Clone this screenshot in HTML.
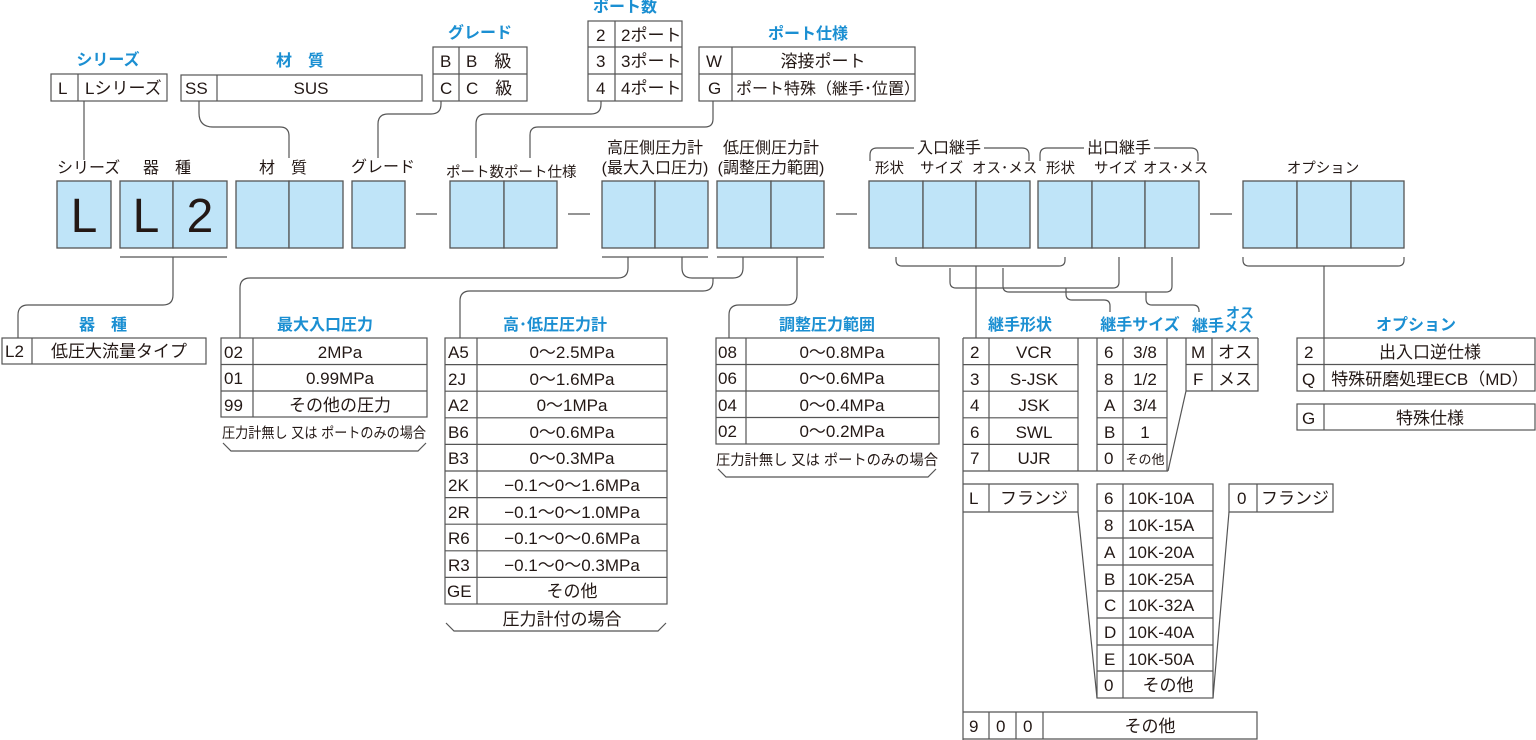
<!DOCTYPE html>
<html><head><meta charset="utf-8"><style>
html,body{margin:0;padding:0;background:#fff}
svg{display:block}
text{font-family:"Liberation Sans","Noto Sans CJK JP",sans-serif;fill:#231815}
.t{font-size:17px}
.m{font-size:16px}
.s{font-size:14.5px}
.b{fill:#1b8fd2;font-weight:bold;font-size:16px}
.c{text-anchor:middle}
.big{font-size:48px;text-anchor:middle}
.bx{fill:#bfe4f8;stroke:#555;stroke-width:1.3}
.ln{fill:none;stroke:#555;stroke-width:1.2}
.tb{fill:#fff;stroke:#555;stroke-width:1.2}
</style></head><body>
<svg width="1536" height="740" viewBox="0 0 1536 740" xmlns="http://www.w3.org/2000/svg">
<!-- main boxes -->
<g class="bx">
<rect x="57" y="181" width="54" height="67"/>
<rect x="120" y="181" width="53" height="67"/><rect x="173" y="181" width="54" height="67"/>
<rect x="236" y="181" width="53" height="67"/><rect x="289" y="181" width="54" height="67"/>
<rect x="352" y="181" width="53" height="67"/>
<rect x="450" y="181" width="54" height="67"/><rect x="504" y="181" width="53" height="67"/>
<rect x="602" y="181" width="53" height="67"/><rect x="655" y="181" width="53" height="67"/>
<rect x="717" y="181" width="54" height="67"/><rect x="771" y="181" width="53" height="67"/>
<rect x="869" y="181" width="54" height="67"/><rect x="923" y="181" width="53" height="67"/><rect x="976" y="181" width="54" height="67"/>
<rect x="1038" y="181" width="54" height="67"/><rect x="1092" y="181" width="53" height="67"/><rect x="1145" y="181" width="54" height="67"/>
<rect x="1243" y="181" width="54" height="67"/><rect x="1297" y="181" width="54" height="67"/><rect x="1351" y="181" width="53" height="67"/>
</g>
<text class="big" x="84" y="232">L</text><text class="big" x="146" y="232">L</text><text class="big" x="200" y="232">2</text>
<g class="ln">
<path d="M416 214H437M568 214H590M836 214H857M1210 214H1232"/>
</g>
<!-- labels above main -->
<g class="m">
<text x="57" y="173">シリーズ</text>
<text x="143" y="173">器　種</text>
<text x="259" y="173">材　質</text>
<text x="351" y="172">グレード</text>
<text x="446" y="177" class="s">ポート数</text>
<text x="504" y="177" class="s">ポート仕様</text>
<text x="655" y="153" class="c">高圧側圧力計</text>
<text x="655" y="173" class="c">(最大入口圧力)</text>
<text x="771" y="153" class="c">低圧側圧力計</text>
<text x="771" y="173" class="c">(調整圧力範囲)</text>
<text x="949" y="153" class="c">入口継手</text>
<text x="875" y="173" class="s">形状</text><text x="920" y="173" class="s">サイズ</text><text x="972" y="173" class="s">オス･メス</text>
<text x="1119" y="153" class="c">出口継手</text>
<text x="1046" y="173" class="s">形状</text><text x="1094" y="173" class="s">サイズ</text><text x="1143" y="173" class="s">オス･メス</text>
<text x="1323" y="173" class="c s">オプション</text>
</g>
<g class="ln">
<path d="M870 161v-6q0-7 7-7H914M984 148H1022q7 0 7 7v6"/>
<path d="M1040 161v-6q0-7 7-7H1084M1154 148H1191q7 0 7 7v6"/>
</g>
<!-- top tables -->
<text class="b c" x="108" y="65">シリーズ</text>
<rect class="tb" x="51" y="74" width="116" height="27"/><path class="ln" d="M78 74v27"/>
<text class="t" x="58" y="94">L</text><text class="t" x="85" y="94">Lシリーズ</text>
<text class="b c" x="300" y="66">材　質</text>
<rect class="tb" x="181" y="75" width="241" height="26"/><path class="ln" d="M217 75v26"/>
<text class="t" x="185" y="94">SS</text><text class="t c" x="311" y="94">SUS</text>
<text class="b c" x="480" y="38">グレード</text>
<rect class="tb" x="433" y="47" width="94" height="54"/><path class="ln" d="M459 47v54M433 74h94"/>
<text class="t" x="440" y="67">B</text><text class="t" x="466" y="67">B　級</text>
<text class="t" x="440" y="94">C</text><text class="t" x="466" y="94">C　級</text>
<text class="b c" x="625" y="12">ポート数</text>
<rect class="tb" x="588" y="21" width="94" height="80"/><path class="ln" d="M615 21v80M588 47h94M588 74h94"/>
<text class="t" x="596" y="41">2</text><text class="t" x="621" y="41">2ポート</text>
<text class="t" x="596" y="67">3</text><text class="t" x="621" y="67">3ポート</text>
<text class="t" x="596" y="94">4</text><text class="t" x="621" y="94">4ポート</text>
<text class="b c" x="808" y="39">ポート仕様</text>
<rect class="tb" x="699" y="47" width="216" height="54"/><path class="ln" d="M732 47v54M699 74h216"/>
<text class="t" x="706" y="67">W</text><text class="t c" x="823" y="67">溶接ポート</text>
<text class="t" x="708" y="94">G</text><text class="m" x="736" y="94">ポート特殊（継手･位置）</text>
<!-- top connectors -->
<g class="ln">
<path d="M84 101V160"/>
<path d="M199 101v12q0 14 14 14H280q9 0 9 9V158"/>
<path d="M441 101v3q0 10-10 10H388q-10 0-10 10V158"/>
<path d="M601 101v3q0 10-10 10H486q-10 0-10 10V158"/>
<path d="M713 101v18q0 8-8 8H538q-8 0-8 8V158"/>
</g>
<!-- under main connectors -->
<g class="ln">
<path d="M120 257H227M173 257v38q0 10-10 10H28q-10 0-10 10V338"/>
<path d="M602 257H708M717 257H824"/>
<path d="M628 257v11q0 10-10 10H250q-10 0-10 10V338"/>
<path d="M682 257v11q0 10 10 10H733q10 0 10-10V257"/>
<path d="M713 278v3q0 10-10 10H470q-10 0-10 10V338"/>
<path d="M797 257v38q0 10-10 10H739q-10 0-10 10V338"/>
<path d="M896 257v3q0 6 6 6H1059q6 0 6-6v-3M976 266V338"/>
<path d="M950 268v14q0 6 6 6H1113q6 0 6-6V257M1066 288v6q0 6 6 6H1104q6 0 6 6V312"/>
<path d="M1003 268v18q0 6 6 6H1166q6 0 6-6V257M1146 292v7q0 6 6 6H1193q6 0 6 6V312"/>
<path d="M1243 257v3q0 6 6 6H1398q6 0 6-6v-3M1324 266V338"/>
</g>
<!-- 器種 -->
<text class="b c" x="103" y="330">器　種</text>
<rect class="tb" x="2" y="338" width="204" height="26"/><path class="ln" d="M32 338v26"/>
<text class="t" x="5" y="357">L2</text><text class="t c" x="119" y="357">低圧大流量タイプ</text>
<!-- 最大入口圧力 -->
<text class="b c" x="325" y="330">最大入口圧力</text>
<rect class="tb" x="221" y="338" width="206" height="79"/><path class="ln" d="M253 338v79M221 364.5h206M221 391h206"/>
<text class="t" x="224" y="358">02</text><text class="t c" x="340" y="358">2MPa</text>
<text class="t" x="224" y="384">01</text><text class="t c" x="340" y="384">0.99MPa</text>
<text class="t" x="224" y="411">99</text><text class="t c" x="340" y="411">その他の圧力</text>
<text class="s" x="222" y="438" textLength="204" lengthAdjust="spacingAndGlyphs">圧力計無し 又は ポートのみの場合</text>
<path class="ln" d="M223 443l8 8H418l8-8"/>
<!-- 高低圧計 -->
<text class="b c" x="555" y="330">高･低圧圧力計</text>
<rect class="tb" x="445" y="338" width="222" height="266"/>
<path class="ln" d="M477 338v266M445 364.6h222M445 391.2h222M445 417.8h222M445 444.4h222M445 471h222M445 497.6h222M445 524.2h222M445 550.8h222M445 577.4h222"/>
<g class="t">
<text x="448" y="358">A5</text><text class="c" x="572" y="358">0〜2.5MPa</text>
<text x="448" y="385">2J</text><text class="c" x="572" y="385">0〜1.6MPa</text>
<text x="448" y="411">A2</text><text class="c" x="572" y="411">0〜1MPa</text>
<text x="448" y="438">B6</text><text class="c" x="572" y="438">0〜0.6MPa</text>
<text x="448" y="464">B3</text><text class="c" x="572" y="464">0〜0.3MPa</text>
<text x="448" y="491">2K</text><text class="c" x="572" y="491">−0.1〜0〜1.6MPa</text>
<text x="448" y="518">2R</text><text class="c" x="572" y="518">−0.1〜0〜1.0MPa</text>
<text x="448" y="544">R6</text><text class="c" x="572" y="544">−0.1〜0〜0.6MPa</text>
<text x="448" y="571">R3</text><text class="c" x="572" y="571">−0.1〜0〜0.3MPa</text>
<text x="447" y="597">GE</text><text class="c" x="572" y="597">その他</text>
<text class="c" x="562" y="625">圧力計付の場合</text>
</g>
<path class="ln" d="M446 623l8 8H658l8-8"/>
<!-- 調整圧力範囲 -->
<text class="b c" x="827" y="330">調整圧力範囲</text>
<rect class="tb" x="716" y="338" width="223" height="106"/><path class="ln" d="M746 338v106M716 364.5h223M716 391h223M716 417.5h223"/>
<g class="t">
<text x="718" y="358">08</text><text class="c" x="842" y="358">0〜0.8MPa</text>
<text x="718" y="384">06</text><text class="c" x="842" y="384">0〜0.6MPa</text>
<text x="718" y="411">04</text><text class="c" x="842" y="411">0〜0.4MPa</text>
<text x="718" y="437">02</text><text class="c" x="842" y="437">0〜0.2MPa</text>
</g>
<text class="s" x="716" y="465" textLength="222" lengthAdjust="spacingAndGlyphs">圧力計無し 又は ポートのみの場合</text>
<path class="ln" d="M718 469l8 8H928l8-8"/>
<!-- 継手 -->
<text class="b c" x="1020" y="330">継手形状</text>
<text class="b c" x="1140" y="330">継手サイズ</text>
<text class="b" x="1192" y="331">継手</text>
<text class="b" x="1226" y="318" style="font-size:14px">オス</text>
<text class="b" x="1224" y="332" style="font-size:14px">メス</text>
<g class="ln">
<path d="M963 338H1258M963 338V740M963 471H1168M1078 338V471M1097 338V471"/>
<path d="M989 338v133M963 364.6h115M963 391.2h115M963 417.8h115M963 444.4h115"/>
<path d="M1167 338v133M1123 338v133M1097 364.6h70M1097 391.2h70M1097 417.8h70M1097 444.4h70"/>
<path d="M1186 338v53H1258V338M1212 338v53M1186 364.5h72M1186 391L1168 471"/>
</g>
<g class="t">
<text x="970" y="358">2</text><text class="c" x="1034" y="358">VCR</text>
<text x="970" y="385">3</text><text class="c" x="1034" y="385">S-JSK</text>
<text x="970" y="411">4</text><text class="c" x="1034" y="411">JSK</text>
<text x="970" y="438">6</text><text class="c" x="1034" y="438">SWL</text>
<text x="970" y="464">7</text><text class="c" x="1034" y="464">UJR</text>
<text x="1104" y="358">6</text><text class="c" x="1145" y="358">3/8</text>
<text x="1104" y="385">8</text><text class="c" x="1145" y="385">1/2</text>
<text x="1104" y="411">A</text><text class="c" x="1145" y="411">3/4</text>
<text x="1104" y="438">B</text><text class="c" x="1145" y="438">1</text>
<text x="1104" y="464">0</text><text class="c" x="1145" y="464" style="font-size:13px">その他</text>
<text x="1191" y="358">M</text><text class="c" x="1235" y="358">オス</text>
<text x="1193" y="385">F</text><text class="c" x="1235" y="385">メス</text>
</g>
<!-- flange -->
<g class="ln">
<path d="M963 484H1078V512H963M989 484v28"/>
<path d="M1078 512L1097 698M1229 512L1213 698"/>
<rect class="tb" x="1097" y="484" width="116" height="214"/>
<path d="M1123 484v214M1097 511h116M1097 538h116M1097 565h116M1097 591h116M1097 618h116M1097 645h116M1097 671h116"/>
<path d="M1229 484H1333V512H1229ZM1257 484v28"/>
<path d="M963 712H1257V739H963M989 712v27M1016 712v27M1043 712v27"/>
</g>
<g class="t">
<text x="969" y="504">L</text><text class="c" x="1034" y="504">フランジ</text>
<text x="1104" y="504">6</text><text x="1128" y="504">10K-10A</text>
<text x="1104" y="531">8</text><text x="1128" y="531">10K-15A</text>
<text x="1104" y="558">A</text><text x="1128" y="558">10K-20A</text>
<text x="1104" y="585">B</text><text x="1128" y="585">10K-25A</text>
<text x="1104" y="611">C</text><text x="1128" y="611">10K-32A</text>
<text x="1104" y="638">D</text><text x="1128" y="638">10K-40A</text>
<text x="1104" y="665">E</text><text x="1128" y="665">10K-50A</text>
<text x="1104" y="691">0</text><text class="c" x="1168" y="691">その他</text>
<text x="1237" y="504">0</text><text class="c" x="1295" y="504">フランジ</text>
<text x="969" y="732">9</text><text x="996" y="732">0</text><text x="1023" y="732">0</text><text class="c" x="1150" y="732">その他</text>
</g>
<!-- option -->
<text class="b c" x="1416" y="330">オプション</text>
<rect class="tb" x="1297" y="338" width="238" height="53"/><path class="ln" d="M1324 338v53M1297 364.5h238"/>
<rect class="tb" x="1297" y="404" width="238" height="26"/><path class="ln" d="M1324 404v26"/>
<g class="t">
<text x="1304" y="358">2</text><text class="c" x="1430" y="358">出入口逆仕様</text>
<text x="1302" y="385">Q</text><text class="c" x="1430" y="385">特殊研磨処理ECB（MD）</text>
<text x="1302" y="424">G</text><text class="c" x="1430" y="424">特殊仕様</text>
</g>
</svg>
</body></html>
